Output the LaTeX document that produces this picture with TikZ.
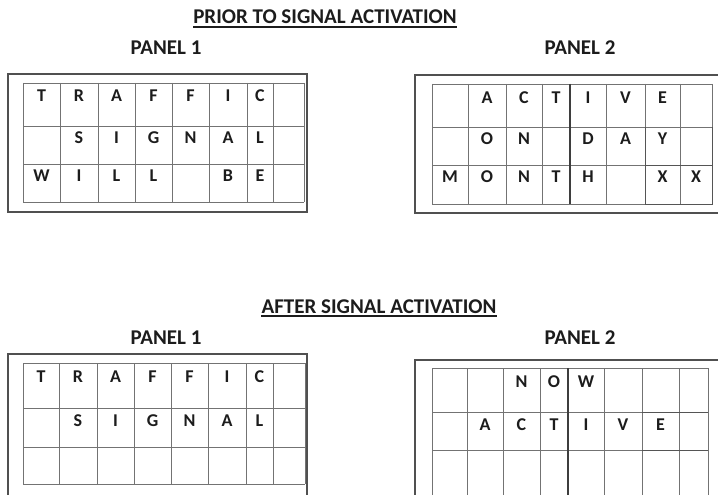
\documentclass[tikz,border=0pt]{standalone}
\usepackage{fontspec}
\setmainfont{Carlito}
\definecolor{ink}{HTML}{1C1C1C}
\definecolor{rule}{HTML}{505050}
\tikzset{
  % --- texts
  heading/.style  = {font=\fontsize{21}{24}\selectfont\bfseries, text=ink,
                     inner sep=0pt, anchor=base},
  paneltag/.style = {heading},
  glyph/.style    = {font=\fontsize{18}{20}\selectfont\bfseries, text=ink,
                     inner sep=0pt, anchor=base},
  % --- lines
  frame/.style    = {draw=rule, line width=1.1pt},
  cellline/.style = {draw=rule!80, line width=0.8pt},
  darkline/.style = {draw=ink!75, line width=1pt},
  divider/.style  = {draw=ink!85, line width=1.5pt},
  uline/.style    = {draw=ink, line width=1.3pt},
}
\begin{document}
\begin{tikzpicture}[x=1pt,y=-1pt]
  \clip (0,0) rectangle (718,495);
  \fill[white] (0,0) rectangle (718,495);

  % --- headings
  \node[heading] (prior) at (325,24) {PRIOR TO SIGNAL ACTIVATION};
  \draw[uline] ([yshift=-3pt]prior.base west) -- ([yshift=-3pt]prior.base east);
  \node[paneltag] (prior-p1) at (166,55) {PANEL 1};
  \node[paneltag] (prior-p2) at (580,55) {PANEL 2};

  \node[heading] (after) at (379,313) {AFTER SIGNAL ACTIVATION};
  \draw[uline] ([yshift=-3pt]after.base west) -- ([yshift=-3pt]after.base east);
  \node[paneltag] (after-p1) at (166,344) {PANEL 1};
  \node[paneltag] (after-p2) at (580,344) {PANEL 2};

  % --- prior, panel 1
  \draw[frame] (8,74) rectangle (307,212);
  \foreach \cx in {23,60,98,135,172,209,247,273,304}
    \draw[cellline] (\cx,83) -- (\cx,202);
  \foreach \ry in {83,126,164,202}
    \draw[cellline] (23,\ry) -- (304,\ry);
  \foreach \ch/\cx [count=\k] in {T/41.5,R/79,A/116.5,F/153.5,F/190.5,I/228,C/260}
    \node[glyph] (pa-a\k) at (\cx,102) {\ch};
  \foreach \ch/\cx [count=\k] in {S/79,I/116.5,G/153.5,N/190.5,A/228,L/260}
    \node[glyph] (pa-b\k) at (\cx,143) {\ch};
  \foreach \ch/\cx [count=\k] in {W/41.5,I/79,L/116.5,L/153.5,B/228,E/260}
    \node[glyph] (pa-c\k) at (\cx,181) {\ch};

  % --- prior, panel 2
  \draw[frame] (415,75) rectangle (730,213);
  \foreach \cx in {432,468,506,542,570,606,645,680,712}
    \draw[cellline] (\cx,84) -- (\cx,204);
  \foreach \ry in {84,127,165,204}
    \draw[cellline] (432,\ry) -- (712,\ry);
  \draw[divider] (570,84) -- (570,204);
  \draw[darkline] (645,127) -- (645,204) -- (712,204) -- (712,127)
                  (645,165) -- (712,165);
  \foreach \ch/\cx [count=\k] in {A/487,C/524,T/556,I/588,V/625.5,E/662.5}
    \node[glyph] (pb-a\k) at (\cx,103) {\ch};
  \foreach \ch/\cx [count=\k] in {O/487,N/524,D/588,A/625.5,Y/662.5}
    \node[glyph] (pb-b\k) at (\cx,144) {\ch};
  \foreach \ch/\cx [count=\k] in {M/450,O/487,N/524,T/556,H/588,X/662.5,X/696}
    \node[glyph] (pb-c\k) at (\cx,182) {\ch};

  % --- after, panel 1
  \draw[frame] (8,354) rectangle (307,520);
  \foreach \cx in {23,59,97,134,171,208,246,273,305}
    \draw[cellline] (\cx,363) -- (\cx,484);
  \foreach \ry in {363,408,447,484}
    \draw[cellline] (23,\ry) -- (305,\ry);
  \foreach \ch/\cx [count=\k] in {T/41,R/78,A/115.5,F/152.5,F/189.5,I/227,C/259.5}
    \node[glyph] (aa-a\k) at (\cx,382) {\ch};
  \foreach \ch/\cx [count=\k] in {S/78,I/115.5,G/152.5,N/189.5,A/227,L/259.5}
    \node[glyph] (aa-b\k) at (\cx,426) {\ch};

  % --- after, panel 2
  \draw[frame] (415,360) rectangle (730,520);
  \foreach \cx in {432,467,503,540,568,604,642,679,708}
    \draw[cellline] (\cx,368) -- (\cx,520);
  \foreach \ry in {368,412,450}
    \draw[cellline] (432,\ry) -- (708,\ry);
  \draw[divider] (568,368) -- (568,520);
  \draw[darkline] (642,412) -- (708,412) (642,450) -- (708,450);
  \foreach \ch/\cx [count=\k] in {N/521.5,O/554,W/586}
    \node[glyph] (ab-a\k) at (\cx,387) {\ch};
  \foreach \ch/\cx [count=\k] in {A/485,C/521.5,T/554,I/586,V/623,E/660.5}
    \node[glyph] (ab-b\k) at (\cx,430) {\ch};
\end{tikzpicture}
\end{document}
